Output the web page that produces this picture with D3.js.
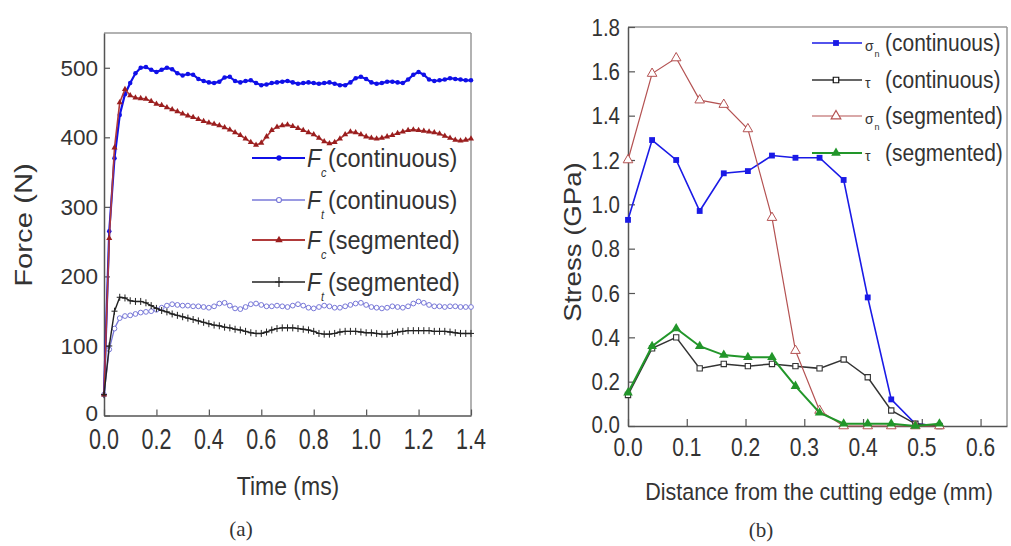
<!DOCTYPE html>
<html>
<head>
<meta charset="utf-8">
<script src="https://cdn.jsdelivr.net/npm/d3@7"></script>
<style>
  body { margin: 0; background: #fff; }
  svg { display: block; font-family: Arial, "Liberation Sans", sans-serif; }
</style>
</head>
<body>
<svg width="1011" height="546"></svg>
<script>
// ---- panel (a) data: cutting forces vs time ----
var time = [0,0.02,0.04,0.06,0.08,0.10,0.12,0.14,0.16,0.18,
  0.20,0.22,0.24,0.26,0.28,0.30,0.32,0.34,0.36,0.38,
  0.40,0.42,0.44,0.46,0.48,0.50,0.52,0.54,0.56,0.58,
  0.60,0.62,0.64,0.66,0.68,0.70,0.72,0.74,0.76,0.78,
  0.80,0.82,0.84,0.86,0.88,0.90,0.92,0.94,0.96,0.98,
  1.00,1.02,1.04,1.06,1.08,1.10,1.12,1.14,1.16,1.18,
  1.20,1.22,1.24,1.26,1.28,1.30,1.32,1.34,1.36,1.38,1.40];
var fcCont = [30,265,370,432,462,478,492,500,501,497,
  494,497,500,498,492,489,491,490,484,481,
  479,478,480,486,487,481,479,481,482,478,
  475,476,478,479,480,481,479,477,478,479,
  478,477,478,479,477,475,475,479,485,487,
  484,479,477,478,480,480,479,478,483,490,
  494,490,483,481,482,483,485,484,483,482,482];
var ftCont = [30,95,125,140,143,144,146,148,149,150,
  152,155,158,160,159,158,158,157,157,156,
  155,157,161,162,158,154,153,156,160,161,
  159,157,157,158,157,156,158,160,158,155,
  154,156,158,157,155,155,157,159,161,162,
  159,156,155,154,155,157,156,155,157,161,
  164,162,159,157,157,156,157,157,156,156,156];
var fcSeg = [30,255,385,450,469,460,457,456,455,452,
  448,446,443,440,437,434,431,429,426,423,
  421,419,417,414,411,407,403,398,393,389,
  392,401,410,415,417,418,416,413,410,407,
  404,399,394,391,393,398,404,408,407,404,
  401,399,398,399,401,403,406,408,410,411,
  410,409,408,407,405,402,399,396,395,396,398];
var ftSeg = [30,100,150,170,169,165,164,164,162,158,
  154,151,149,146,144,142,140,138,136,134,
  132,130,129,127,126,124,123,121,119,118,
  118,120,123,125,126,126,126,125,124,123,
  121,118,117,117,118,120,121,121,121,120,
  119,119,118,117,117,118,120,121,122,122,
  122,122,122,121,121,121,120,119,118,118,118];
var timeTicks = [0,0.2,0.4,0.6,0.8,1.0,1.2,1.4];
var forceTicks = [0,100,200,300,400,500];

// ---- panel (b) data: stress vs distance ----
var dist = [0,0.041,0.082,0.122,0.163,0.204,0.245,0.285,0.326,0.367,0.408,0.448,0.489,0.53];
var sigmaCont = [0.93,1.29,1.20,0.97,1.14,1.15,1.22,1.21,1.21,1.11,0.58,0.12,0.01,0.0];
var tauCont = [0.14,0.35,0.40,0.26,0.28,0.27,0.28,0.27,0.26,0.30,0.22,0.07,0.01,0.0];
var sigmaSeg = [1.20,1.59,1.66,1.47,1.45,1.34,0.94,0.34,0.07,0.0,0.0,0.0,0.0,0.0];
var tauSeg = [0.15,0.36,0.44,0.36,0.32,0.31,0.31,0.18,0.06,0.01,0.01,0.01,0.0,0.01];
var distTicks = [0,0.1,0.2,0.3,0.4,0.5,0.6];
var stressTicks = [0,0.2,0.4,0.6,0.8,1.0,1.2,1.4,1.6,1.8];

var svg = d3.select("svg");
svg.append("rect").attr("width", 1011).attr("height", 546).attr("fill", "#fff");

function txt(g, x, y, s, size, sy, anchor, rot) {
  var t = g.append("text")
    .attr("transform", "translate(" + x + "," + y + ")" + (rot ? " rotate(" + rot + ")" : "") + " scale(" + (rot ? sy + ",1" : "1," + sy) + ")")
    .attr("font-size", size).attr("fill", "#333")
    .attr("text-anchor", anchor || "start")
    .text(s);
  return t;
}

function frame(g, x, y, w, h) {
  g.append("line").attr("x1", x).attr("x2", x + w).attr("y1", y).attr("y2", y)
    .attr("stroke", "#999").attr("stroke-width", 1.5);
  g.append("line").attr("x1", x + w).attr("x2", x + w).attr("y1", y).attr("y2", y + h)
    .attr("stroke", "#999").attr("stroke-width", 1.5);
}

function axes(g, x, y, xt, xm, yt, ym, big, small) {
  var r = x.range(), d = y.range();
  var bx = g.append("g").attr("transform", "translate(0," + d[0] + ")");
  bx.call(d3.axisBottom(x).tickValues(xm).tickSizeInner(-small).tickSizeOuter(0).tickFormat(""));
  bx.call(d3.axisBottom(x).tickValues(xt).tickSizeInner(-big).tickSizeOuter(0).tickFormat(""));
  var ly = g.append("g").attr("transform", "translate(" + r[0] + ",0)");
  ly.call(d3.axisLeft(y).tickValues(ym).tickSizeInner(-small).tickSizeOuter(0).tickFormat(""));
  ly.call(d3.axisLeft(y).tickValues(yt).tickSizeInner(-big).tickSizeOuter(0).tickFormat(""));
  g.selectAll(".domain").attr("stroke", "#555").attr("stroke-width", 1.5);
  g.selectAll(".tick line").attr("stroke", "#555").attr("stroke-width", 1.2);
}

function series(g, xs, ys, x, y, color, width) {
  var pts = xs.map(function(d, i) { return [d, ys[i]]; });
  g.append("path").datum(pts)
    .attr("fill", "none").attr("stroke", color).attr("stroke-width", width)
    .attr("d", d3.line().x(function(d) { return x(d[0]); }).y(function(d) { return y(d[1]); }));
  return pts;
}

function marks(g, pts, x, y, path, fill, stroke, sw) {
  g.selectAll(null).data(pts).enter().append("path")
    .attr("transform", function(d) { return "translate(" + x(d[0]) + "," + y(d[1]) + ")"; })
    .attr("d", path).attr("fill", fill).attr("stroke", stroke).attr("stroke-width", sw || 1);
}

var plus = "M-3,0H3M0,-3.5V3.5";
var circ = d3.symbol().type(d3.symbolCircle).size(16)();
var ocirc = d3.symbol().type(d3.symbolCircle).size(18)();
var tri = d3.symbol().type(d3.symbolTriangle).size(16)();
var sq = d3.symbol().type(d3.symbolSquare).size(34)();
var bigTri = d3.symbol().type(d3.symbolTriangle).size(40)();

// ================= panel (a) =================
var ga = svg.append("g");
var xL = d3.scaleLinear().domain([0, 1.4]).range([104, 471]);
var yL = d3.scaleLinear().domain([0, 550]).range([415.5, 33]);

frame(ga, 104, 33, 367, 382.5);
axes(ga, xL, yL, timeTicks, [0.1,0.3,0.5,0.7,0.9,1.1,1.3], forceTicks, [50,150,250,350,450], 6, 3);

var cBlue = "#1010e8", cLight = "#7878d8", cRed = "#9a1e1e", cBlack = "#222";
var p1 = series(ga, time, fcCont, xL, yL, cBlue, 2.2);
marks(ga, p1, xL, yL, circ, cBlue, "none");
var p2 = series(ga, time, ftCont, xL, yL, cLight, 1.3);
marks(ga, p2, xL, yL, ocirc, "#fff", cLight, 1);
var p3 = series(ga, time, fcSeg, xL, yL, "#b03a3a", 1.6);
marks(ga, p3, xL, yL, tri, cRed, "none");
var p4 = series(ga, time, ftSeg, xL, yL, cBlack, 1.4);
marks(ga, p4, xL, yL, plus, "none", cBlack, 1);

timeTicks.forEach(function(t) { txt(ga, xL(t), 449, d3.format(".1f")(t), 21.5, 1.35, "middle"); });
forceTicks.forEach(function(v) { txt(ga, 98, yL(v) + (v === 0 ? 5 : 8), v, 22.5, 1.0, "end"); });
txt(ga, 288, 495, "Time (ms)", 23, 1.15, "middle");
txt(ga, 32, 225, "Force (N)", 24, 1.22, "middle", -90);
ga.append("text").attr("x", 241).attr("y", 536).attr("text-anchor", "middle")
  .attr("font-family", "'Liberation Serif', 'DejaVu Serif', serif").attr("font-size", 21)
  .attr("fill", "#333").text("(a)");

// legend (a)
var legA = [
  { sub: "c", label: "(continuous)", color: cBlue, line: 1.8, mark: d3.symbol().type(d3.symbolCircle).size(22)(), fill: cBlue, stroke: "none" },
  { sub: "t", label: "(continuous)", color: cLight, line: 1.3, mark: d3.symbol().type(d3.symbolCircle).size(20)(), fill: "#fff", stroke: cLight },
  { sub: "c", label: "(segmented)", color: "#b03a3a", line: 1.8, mark: d3.symbol().type(d3.symbolTriangle).size(24)(), fill: cRed, stroke: "none" },
  { sub: "t", label: "(segmented)", color: cBlack, line: 1.4, mark: "M-4,0H4M0,-5V5", fill: "none", stroke: cBlack }
];
var legAy = [158, 200, 240, 282];
legA.forEach(function(d, i) {
  var y = legAy[i];
  ga.append("line").attr("x1", 252).attr("x2", 305).attr("y1", y).attr("y2", y)
    .attr("stroke", d.color).attr("stroke-width", d.line);
  ga.append("path").attr("transform", "translate(279," + y + ")").attr("d", d.mark)
    .attr("fill", d.fill).attr("stroke", d.stroke).attr("stroke-width", 1.2);
  txt(ga, 307, y + 9, "F", 23, 1.1).attr("font-style", "italic");
  txt(ga, 321, y + 19, d.sub, 11, 1.1).attr("font-style", "italic");
  txt(ga, 328, y + 9, d.label, 23.5, 1.1);
});

// ================= panel (b) =================
var gb = svg.append("g");
var xR = d3.scaleLinear().domain([0, 0.645]).range([628, 1007]);
var yR = d3.scaleLinear().domain([0, 1.8]).range([426, 27]);

frame(gb, 628, 27, 379, 399);
axes(gb, xR, yR, distTicks, [0.05,0.15,0.25,0.35,0.45,0.55], stressTicks,
  [0.1,0.3,0.5,0.7,0.9,1.1,1.3,1.5,1.7], 7, 3.5);

var cB2 = "#1a1ae6", cK2 = "#333", cR2 = "#b45252", cG2 = "#22962a";
var q1 = series(gb, dist, sigmaCont, xR, yR, cB2, 1.6);
marks(gb, q1, xR, yR, sq, cB2, "none");
var q2 = series(gb, dist, tauCont, xR, yR, cK2, 1.5);
marks(gb, q2, xR, yR, d3.symbol().type(d3.symbolSquare).size(28)(), "#fff", cK2, 1.1);
var q3 = series(gb, dist, sigmaSeg, xR, yR, cR2, 1.2);
marks(gb, q3, xR, yR, bigTri, "#fff", cR2, 1);
var q4 = series(gb, dist, tauSeg, xR, yR, cG2, 2);
marks(gb, q4, xR, yR, bigTri, cG2, "none");

distTicks.forEach(function(t) { txt(gb, xR(t), 456, d3.format(".1f")(t), 21, 1.2, "middle"); });
stressTicks.forEach(function(v) { txt(gb, 620, yR(v) + (v === 0 ? 6.5 : 8.5), d3.format(".1f")(v), 20.5, 1.15, "end"); });
txt(gb, 819, 500, "Distance from the cutting edge (mm)", 21.5, 1.1, "middle");
txt(gb, 581, 242, "Stress (GPa)", 23, 1.2, "middle", -90);
gb.append("text").attr("x", 761).attr("y", 537).attr("text-anchor", "middle")
  .attr("font-family", "'Liberation Serif', 'DejaVu Serif', serif").attr("font-size", 21)
  .attr("fill", "#333").text("(b)");

// legend (b)
var legB = [
  { sym: "σ", sub: "n", label: "(continuous)", color: cB2, w: 1.6, mark: sq, fill: cB2, stroke: "none" },
  { sym: "τ", sub: "", label: "(continuous)", color: cK2, w: 1.5, mark: d3.symbol().type(d3.symbolSquare).size(30)(), fill: "#fff", stroke: "#111" },
  { sym: "σ", sub: "n", label: "(segmented)", color: cR2, w: 1.2, mark: bigTri, fill: "#fff", stroke: cR2 },
  { sym: "τ", sub: "", label: "(segmented)", color: cG2, w: 2, mark: bigTri, fill: cG2, stroke: "none" }
];
var legBy = [43, 80, 116, 153];
legB.forEach(function(d, i) {
  var y = legBy[i];
  gb.append("line").attr("x1", 812).attr("x2", 862).attr("y1", y).attr("y2", y)
    .attr("stroke", d.color).attr("stroke-width", d.w);
  gb.append("path").attr("transform", "translate(836," + y + ")").attr("d", d.mark)
    .attr("fill", d.fill).attr("stroke", d.stroke).attr("stroke-width", 1.2);
  txt(gb, 865, y + 8, d.sym, 14, 1.1);
  if (d.sub) txt(gb, 874.5, y + 14, d.sub, 9, 1.1);
  txt(gb, 885, y + 8, d.label, 21, 1.15);
});
</script>
</body>
</html>
